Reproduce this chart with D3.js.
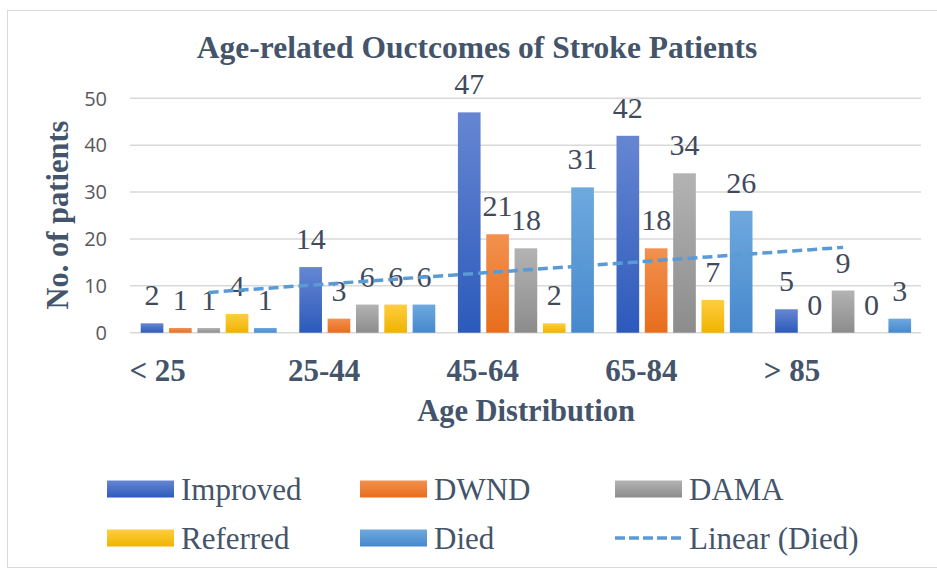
<!DOCTYPE html>
<html>
<head>
<meta charset="utf-8">
<script src="https://cdn.jsdelivr.net/npm/d3@7"></script>
<style>
  html, body { margin: 0; padding: 0; background: #fff; }
  svg { display: block; }
</style>
</head>
<body>
<svg id="chart" width="937" height="571"></svg>
<script>
const categories = ["< 25", "25-44", "45-64", "65-84", "> 85"];
const seriesNames = ["Improved", "DWND", "DAMA", "Referred", "Died"];
const improved = [2, 14, 47, 42, 5];
const dwnd = [1, 3, 21, 18, 0];
const dama = [1, 6, 18, 34, 9];
const referred = [4, 6, 2, 7, 0];
const died = [1, 6, 31, 26, 3];
const yTicks = [0, 10, 20, 30, 40, 50];
const seriesValues = [improved, dwnd, dama, referred, died];
const colorsTop = ["#6686d2", "#f2914f", "#b3b3b3", "#ffcd40", "#6ea9de"];
const colorsBottom = ["#2c5abb", "#e86d1c", "#8c8c8c", "#efb300", "#4788cd"];

const svg = d3.select("#chart");
const textColor = "#44546A";
const labelColor = "#3f4a5c";
const serif = "'Liberation Serif', 'Times New Roman', serif";

// frame
svg.append("rect").attr("x", 7.5).attr("y", 10.5).attr("width", 940).attr("height", 557)
  .attr("fill", "#fff").attr("stroke", "#d9d9d9").attr("stroke-width", 1);

// gradients
const defs = svg.append("defs");
seriesNames.forEach((s, i) => {
  const g = defs.append("linearGradient").attr("id", "grad" + i)
    .attr("x1", 0).attr("y1", 0).attr("x2", 0).attr("y2", 1);
  g.append("stop").attr("offset", "0%").attr("stop-color", colorsTop[i]);
  g.append("stop").attr("offset", "100%").attr("stop-color", colorsBottom[i]);
});

const x0 = d3.scaleBand().domain(categories).range([129.4, 922.4]).paddingInner(0).paddingOuter(0);
const x1 = d3.scaleBand().domain(seriesNames).range([11.3, x0.bandwidth() - 11.3]).paddingInner(0.2).paddingOuter(0);
const y = d3.scaleLinear().domain([0, 50]).range([332.7, 98.3]);

// gridlines
svg.append("g").selectAll("line").data(yTicks).join("line")
  .attr("x1", 130).attr("x2", 921).attr("y1", d => y(d)).attr("y2", d => y(d))
  .attr("stroke", "#d9d9d9").attr("stroke-width", 1.5);

// y tick labels
svg.append("g").selectAll("text").data(yTicks).join("text")
  .attr("x", 107).attr("y", d => y(d)).attr("dy", "0.36em")
  .attr("text-anchor", "end")
  .attr("font-family", "'Open Sans', sans-serif").attr("font-size", 20)
  .attr("fill", "#595959").text(d => d);

// bars
const groups = svg.append("g").selectAll("g").data(categories).join("g")
  .attr("transform", c => `translate(${x0(c)},0)`);
groups.selectAll("rect").data((c, ci) => seriesNames.map((s, si) => ({ s, si, v: seriesValues[si][ci] })))
  .join("rect")
  .attr("x", d => x1(d.s)).attr("width", x1.bandwidth())
  .attr("y", d => y(d.v)).attr("height", d => y(0) - y(d.v))
  .attr("fill", d => `url(#grad${d.si})`);

// trendline (Linear Died) via least squares on Died
const n = died.length;
const xs = died.map((d, i) => i + 1);
const mx = d3.mean(xs), my = d3.mean(died);
const slope = d3.sum(xs.map((xv, i) => (xv - mx) * (died[i] - my))) / d3.sum(xs.map(xv => (xv - mx) ** 2));
const intercept = my - slope * mx;
const trendPts = [0, n - 1].map(i => [x0(categories[i]) + x0.bandwidth() / 2, y(intercept + slope * (i + 1))]);
svg.append("path").attr("d", d3.line()(trendPts))
  .attr("stroke", "#5B9BD5").attr("stroke-width", 3.5).attr("stroke-dasharray", "10,5")
  .attr("fill", "none");

// data labels
groups.selectAll("text").data((c, ci) => seriesNames.map((s, si) => ({ s, si, v: seriesValues[si][ci] })))
  .join("text")
  .attr("x", d => x1(d.s) + x1.bandwidth() / 2)
  .attr("y", d => y(d.v) - 18)
  .attr("text-anchor", "middle")
  .attr("font-family", serif).attr("font-size", 30)
  .attr("fill", labelColor).text(d => d.v);

// category labels
svg.append("g").selectAll("text").data(categories).join("text")
  .attr("x", c => x0(c)).attr("y", 381)
  .attr("font-family", serif).attr("font-size", 31)
  .attr("font-weight", "bold").attr("fill", textColor)
  .text(c => c);

// title
svg.append("text").attr("x", 477).attr("y", 58).attr("text-anchor", "middle")
  .attr("font-family", serif).attr("font-size", 31.5)
  .attr("font-weight", "bold").attr("fill", textColor)
  .text("Age-related Ouctcomes of Stroke Patients");

// x axis title
svg.append("text").attr("x", 526).attr("y", 421).attr("text-anchor", "middle")
  .attr("font-family", serif).attr("font-size", 30.5)
  .attr("font-weight", "bold").attr("fill", textColor)
  .text("Age Distribution");

// y axis title
svg.append("text").attr("transform", "translate(68,215) rotate(-90)").attr("text-anchor", "middle")
  .attr("font-family", serif).attr("font-size", 30.5)
  .attr("font-weight", "bold").attr("fill", textColor)
  .text("No. of patients");

// legend
const legendItems = [
  { name: "Improved", type: "bar", si: 0 },
  { name: "DWND", type: "bar", si: 1 },
  { name: "DAMA", type: "bar", si: 2 },
  { name: "Referred", type: "bar", si: 3 },
  { name: "Died", type: "bar", si: 4 },
  { name: "Linear (Died)", type: "line" }
];
const legendX = [107, 360, 615];
const legendY = [489, 538];
const lg = svg.append("g").selectAll("g").data(legendItems).join("g")
  .attr("transform", (d, i) => `translate(${legendX[i % 3]},${legendY[Math.floor(i / 3)]})`);
lg.filter(d => d.type === "bar").append("rect")
  .attr("x", 0).attr("y", -8.5).attr("width", 67).attr("height", 17)
  .attr("fill", d => `url(#grad${d.si})`);
lg.filter(d => d.type === "line").append("line")
  .attr("x1", 0).attr("x2", 68).attr("y1", 0).attr("y2", 0)
  .attr("stroke", "#5B9BD5").attr("stroke-width", 3.5).attr("stroke-dasharray", "10,4");
lg.append("text").attr("x", 74).attr("y", 0).attr("dy", "0.35em")
  .attr("font-family", serif).attr("font-size", 31)
  .attr("fill", textColor).text(d => d.name);
</script>
</body>
</html>
